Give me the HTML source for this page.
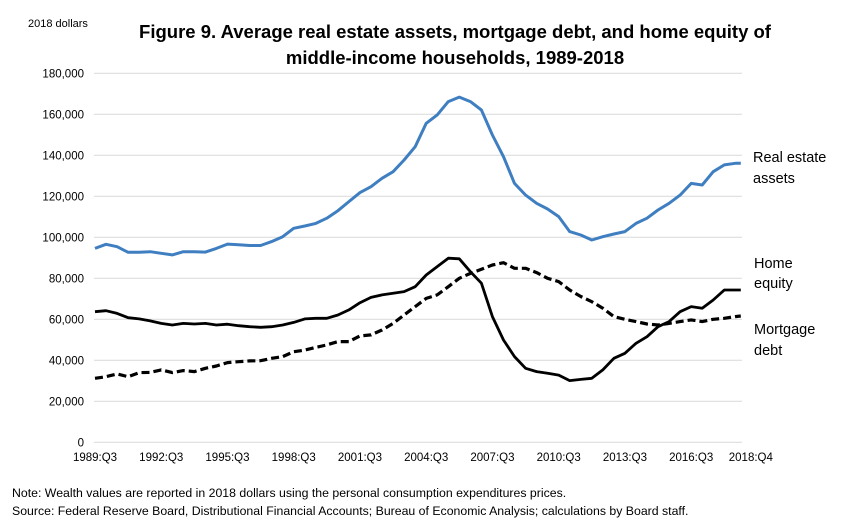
<!DOCTYPE html>
<html><head><meta charset="utf-8"><style>
body{margin:0;background:#fff;}
svg text{font-family:"Liberation Sans",sans-serif;}
</style></head><body>
<svg width="857" height="524" viewBox="0 0 857 524" id="chart">
<text x="455" y="38" text-anchor="middle" font-size="18.5" font-weight="bold" fill="#000">Figure 9.  Average real estate assets, mortgage debt, and home equity of</text>
<text x="455" y="64" text-anchor="middle" font-size="18.5" font-weight="bold" fill="#000">middle-income households, 1989-2018</text>
<text x="28" y="27" font-size="11" fill="#000">2018 dollars</text>
<g id="grid"></g><g id="ylab"></g><g id="xlab"></g><g id="lines"></g>
<text x="753" y="162" font-size="14.5" fill="#000">Real estate</text>
<text x="753" y="183" font-size="14.5" fill="#000">assets</text>
<text x="754" y="268" font-size="14.5" fill="#000">Home</text>
<text x="754" y="288" font-size="14.5" fill="#000">equity</text>
<text x="754" y="334" font-size="14.5" fill="#000">Mortgage</text>
<text x="754" y="355" font-size="14.5" fill="#000">debt</text>
<text x="12" y="497" font-size="12.3" fill="#000">Note:  Wealth values are reported in 2018 dollars using the personal consumption expenditures prices.</text>
<text x="12" y="515" font-size="12.3" fill="#000">Source:  Federal Reserve Board, Distributional Financial Accounts; Bureau of Economic Analysis; calculations by Board staff.</text>
</svg>
<script>
const quarterIdx=[0,2,4,6,8,10,12,14,16,18,20,22,24,26,28,30,32,34,36,38,40,42,44,46,48,50,52,54,56,58,60,62,64,66,68,70,72,74,76,78,80,82,84,86,88,90,92,94,96,98,100,102,104,106,108,110,112,114,116,117];
const realEstate=[94.6,96.6,95.4,92.7,92.7,93,92.2,91.4,93,93,92.8,94.6,96.7,96.4,96,96,97.9,100.3,104.4,105.5,106.8,109.3,113,117.4,121.8,124.7,128.8,132,137.7,144.2,155.6,159.7,166.2,168.4,166.2,162.1,149.9,139.3,126.3,120.6,116.6,113.8,110.1,102.8,101.1,98.7,100.3,101.6,102.8,106.8,109.3,113.3,116.6,120.6,126.3,125.5,132,135.3,136.1,136.1];
const homeEquity=[63.7,64.2,62.9,60.8,60.2,59.2,58,57.2,58,57.7,58,57.2,57.6,56.9,56.4,56.1,56.4,57.2,58.5,60.2,60.5,60.5,62.1,64.6,68.1,70.7,71.9,72.7,73.5,75.9,81.6,85.7,89.8,89.5,83.2,77.6,61.3,49.9,41.8,36.1,34.5,33.7,32.8,30.1,30.7,31.2,35.3,41,43.4,48.3,51.5,56.4,58.9,63.7,66.2,65.4,69.4,74.3,74.3,74.3];
const mortgageDebt=[31.2,32,33.3,32,34,34.1,35.3,34,35,34.5,36.1,37.2,38.9,39.3,39.7,39.8,41,41.8,44.2,45,46.3,47.5,49.1,49.1,51.9,52.4,54.8,58,62.1,66.2,70.2,71.9,75.9,80,82.4,84.4,86.5,87.6,84.9,84.9,82.8,80,78.4,74.3,71.1,68.6,65.4,61.3,60,58.9,57.7,57.2,58,58.9,59.7,58.9,60,60.5,61.3,61.6];
const yTicks=[0,20000,40000,60000,80000,100000,120000,140000,160000,180000];
const xTickLabels=["1989:Q3","1992:Q3","1995:Q3","1998:Q3","2001:Q3","2004:Q3","2007:Q3","2010:Q3","2013:Q3","2016:Q3","2018:Q4"];
const xTickIdx=[0,12,24,36,48,60,72,84,96,108,117];
const NS="http://www.w3.org/2000/svg";
const X0=95,XS=5.52,Y0=442.3,YTOP=73.3,YMAX=180000;
const xs=i=>X0+i*XS; const ys=v=>Y0-(v/YMAX)*(Y0-YTOP);
function mk(t,a,p){const e=document.createElementNS(NS,t);for(const k in a)e.setAttribute(k,a[k]);p.appendChild(e);return e;}
const g=document.getElementById('grid'),yl=document.getElementById('ylab'),xl=document.getElementById('xlab'),L=document.getElementById('lines');
yTicks.forEach(v=>{const y=ys(v);
 const ln=mk('line',{x1:94,x2:742,y1:y,y2:y,stroke:'#d9d9d9','stroke-width':1},g);
 
 
 const t=mk('text',{x:84,y:y+4,'text-anchor':'end','font-size':11.5},yl);t.textContent=v.toLocaleString('en-US');
 
 });
xTickLabels.forEach((s,k)=>{let x=xs(xTickIdx[k]);if(k===xTickLabels.length-1)x+=10;
 const t=mk('text',{x:x,y:461,'text-anchor':'middle','font-size':11.5},xl);t.textContent=s;
 
 });
function line(arr,style,name){const d=arr.map((v,k)=>(k?'L':'M')+xs(quarterIdx[k]).toFixed(1)+','+ys(v*1000).toFixed(1)).join('');
 const p=mk('path',Object.assign({d:d,fill:'none','stroke-linejoin':'round'},style),L);
 
 }
line(realEstate,{stroke:'#3f7fc1','stroke-width':3},'line-real-estate-assets');
line(homeEquity,{stroke:'#000','stroke-width':2.8},'line-home-equity');
line(mortgageDebt,{stroke:'#000','stroke-width':3.2,'stroke-dasharray':'8,4'},'line-mortgage-debt');
</script>
</body></html>
